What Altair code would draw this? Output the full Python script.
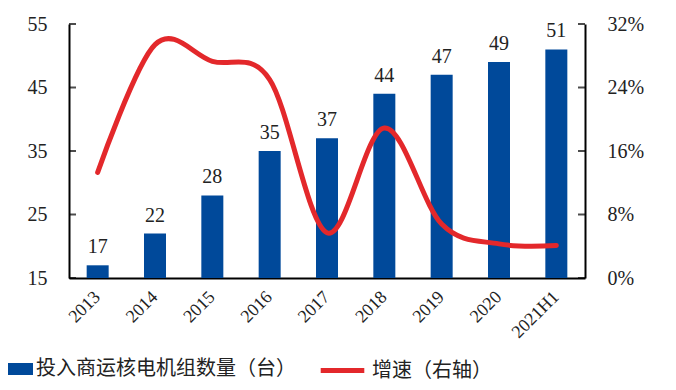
import altair as alt
import pandas as pd

years = ["2013", "2014", "2015", "2016", "2017", "2018", "2019", "2020", "2021H1"]
units = [17, 22, 28, 35, 37, 44, 47, 49, 51]
growth = [13.3, 29.4, 27.3, 25.0, 5.7, 18.9, 6.8, 4.3, 4.1]
left_ticks = [15, 25, 35, 45, 55]
right_ticks = [0, 8, 16, 24, 32]
bar_name = "投入商运核电机组数量（台）"
line_name = "增速（右轴）"

BLUE = "#00499A"
RED = "#E3282B"
SERIF = "Liberation Serif"
CJK = "Noto Sans CJK SC"

df = pd.DataFrame({"year": years, "units": units, "growth": growth,
                   "s1": bar_name, "s2": line_name})
ticks_df = pd.DataFrame({"t": left_ticks})

xenc = alt.X("year:N", sort=years, title=None,
             scale=alt.Scale(paddingInner=0.62, paddingOuter=0.31),
             axis=alt.Axis(labelAngle=-45, labelFont=SERIF, labelFontSize=18,
                           labelColor="#222", ticks=False, domainColor="#000",
                           domainWidth=2, labelPadding=16, labelAlign="right",
                           labelBaseline="middle"))

yleft = alt.Y("units:Q", title=None,
              scale=alt.Scale(domain=[15, 55], zero=False, nice=False),
              axis=alt.Axis(values=left_ticks, labelFont=SERIF, labelFontSize=20,
                            labelColor="#222", ticks=False, grid=False,
                            domainColor="#000", domainWidth=2, labelPadding=22))

bars = alt.Chart(df).mark_bar(size=22).encode(
    x=xenc,
    y=yleft,
    y2=alt.datum(15),
    color=alt.Color("s1:N", title=None,
                    scale=alt.Scale(domain=[bar_name], range=[BLUE]),
                    legend=alt.Legend(orient="none", legendX=-61, legendY=334,
                                      symbolType="M-1.4,-0.6H1.4V0.6H-1.4Z",
                                      symbolSize=400, symbolOpacity=1,
                                      labelFont=CJK, labelFontSize=20,
                                      labelLimit=0,
                                      labelColor="#222", labelOffset=6)),
)

labels = alt.Chart(df).mark_text(baseline="bottom", dy=-8, font=SERIF,
                                 fontSize=20, color="#222").encode(
    x=alt.X("year:N", sort=years),
    y=alt.Y("units:Q"),
    text=alt.Text("units:Q"),
)

tick_marks = alt.Chart(ticks_df).mark_tick(orient="horizontal", size=7,
                                           thickness=2, color="#000").encode(
    y=alt.Y("t:Q"),
    x=alt.value(3.5),
)
tick_marks_r = alt.Chart(ticks_df).mark_tick(orient="horizontal", size=7,
                                             thickness=2, color="#000").encode(
    y=alt.Y("t:Q"),
    x=alt.value(512.5),
)

left = alt.layer(bars, labels, tick_marks, tick_marks_r)

line = alt.Chart(df).mark_line(strokeWidth=5, interpolate="cardinal",
                               strokeCap="round").encode(
    x=alt.X("year:N", sort=years),
    y=alt.Y("growth:Q", title=None,
            scale=alt.Scale(domain=[0, 32], nice=False),
            axis=alt.Axis(orient="right", values=right_ticks,
                          labelExpr="datum.value + '%'", labelFont=SERIF,
                          labelFontSize=20, labelColor="#222", ticks=False,
                          grid=False, domainColor="#000", domainWidth=2,
                          labelPadding=22)),
    stroke=alt.Stroke("s2:N", title=None,
                      scale=alt.Scale(domain=[line_name], range=[RED]),
                      legend=alt.Legend(orient="none", legendX=249, legendY=322,
                                        symbolType="stroke", symbolSize=1900,
                                        symbolStrokeWidth=5,
                                        labelFont=CJK, labelFontSize=20,
                                        labelLimit=0,
                                        labelColor="#222", labelOffset=5)),
)

chart = alt.layer(left, line).resolve_scale(y="independent").properties(
    width=516, height=254,
    autosize=alt.AutoSizeParams(type="none"),
    padding={"left": 61, "top": 16, "right": 83, "bottom": 112},
).configure_view(stroke=None)

chart.save("out.html", embed_options={"renderer": "svg", "actions": False})
